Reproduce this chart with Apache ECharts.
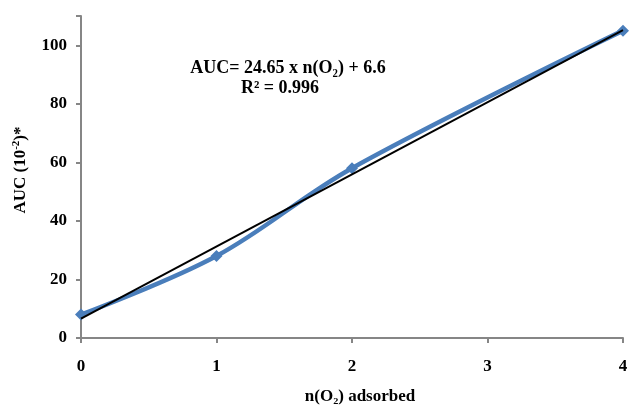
<!DOCTYPE html>
<html>
<head>
<meta charset="utf-8">
<script src="https://cdn.jsdelivr.net/npm/echarts@6/dist/echarts.min.js"></script>
<style>
  html, body { margin: 0; padding: 0; background: #fff; }
  #main { width: 630px; height: 407px; }
</style>
</head>
<body>
<div id="main"></div>
<script>
// 数据
var nO2 = [0, 1, 2, 4];
var auc = [8, 28, 58, 105];
var trendX = [0, 4];
var trendY = [6.6, 105.2];
var xTicks = [0, 1, 2, 3, 4];
var yTicks = [0, 20, 40, 60, 80, 100];

var chart = echarts.init(document.getElementById('main'));
var serif = '"Liberation Serif", "DejaVu Serif", serif';

var option = {
    animation: false,
    grid: { left: 81, right: 7, top: 16, bottom: 69, outerBoundsMode: 'none', containLabel: false },
    xAxis: {
        type: 'value',
        min: 0, max: 4, interval: 1,
        name: 'n(O₂) adsorbed',
        nameLocation: 'middle',
        nameGap: 50,
        nameTextStyle: { fontFamily: serif, fontWeight: 'bold', fontSize: 17, color: '#000', padding: [0, 0, 0, 16] },
        axisLine: { lineStyle: { color: '#868686', width: 2 } },
        axisTick: { show: true, length: 5, lineStyle: { color: '#868686', width: 2 } },
        axisLabel: {
            margin: 20, fontFamily: serif, fontWeight: 'bold', fontSize: 17, color: '#000',
            formatter: function (v) { return xTicks.indexOf(v) >= 0 ? v : ''; }
        },
        splitLine: { show: false }
    },
    yAxis: {
        type: 'value',
        min: 0, max: 110, interval: 20,
        name: 'AUC (10{sup|-2})*',
        nameLocation: 'middle',
        nameGap: 50,
        nameRotate: 90,
        nameTextStyle: {
            fontFamily: serif, fontWeight: 'bold', fontSize: 17, color: '#000', padding: [0, 0, 0, 14],
            rich: { sup: { fontFamily: serif, fontWeight: 'bold', fontSize: 11, color: '#000', padding: [0, 0, 9, 0] } }
        },
        axisLine: { show: true, lineStyle: { color: '#868686', width: 2 } },
        axisTick: { show: true, length: 5, lineStyle: { color: '#868686', width: 2 } },
        axisLabel: {
            margin: 14, fontFamily: serif, fontWeight: 'bold', fontSize: 17, color: '#000',
            formatter: function (v) { return yTicks.indexOf(v) >= 0 ? v : ''; }
        },
        splitLine: { show: false }
    },
    graphic: [
        {
            type: 'text', x: 288, y: 68,
            style: {
                text: 'AUC= 24.65 x n(O₂) + 6.6', align: 'center', verticalAlign: 'middle',
                font: 'bold 18px ' + serif, fill: '#000'
            }
        },
        {
            type: 'text', x: 280, y: 88,
            style: {
                text: 'R² = 0.996', align: 'center', verticalAlign: 'middle',
                font: 'bold 18px ' + serif, fill: '#000'
            }
        }
    ],
    series: [
        {
            name: 'AUC',
            type: 'line',
            smooth: 0.35,
            data: nO2.map(function (x, i) { return [x, auc[i]]; }),
            symbol: 'diamond',
            symbolSize: 12,
            itemStyle: { color: '#4a7ebb' },
            lineStyle: { color: '#4a7ebb', width: 4.5 },
            z: 2
        },
        {
            name: 'trend',
            type: 'line',
            data: trendX.map(function (x, i) { return [x, trendY[i]]; }),
            symbol: 'none',
            lineStyle: { color: '#000', width: 2 },
            z: 3
        }
    ]
};

chart.setOption(option);
</script>
</body>
</html>
